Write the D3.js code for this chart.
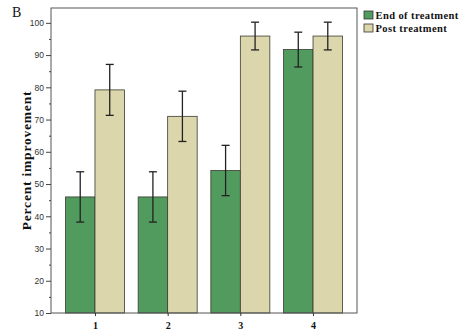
<!DOCTYPE html>
<html>
<head>
<meta charset="utf-8">
<script src="https://cdn.jsdelivr.net/npm/d3@7"></script>
<style>
  html, body { margin: 0; padding: 0; background: #fff; }
  svg { display: block; }
  .tick-label { font-family: "Liberation Sans", Arial, sans-serif; font-size: 8.5px; fill: #333; }
  .serif-bold { font-family: "Liberation Serif", "Times New Roman", serif; font-weight: bold; }
</style>
</head>
<body>
<div id="chart"></div>
<script>
// Groups along the x axis
const groups = ["1", "2", "3", "4"];
const seriesNames = ["End of treatment", "Post treatment"];

// Mean percent improvement per group
const endOfTreatment = [46, 46, 54.2, 91.7];
const postTreatment = [79.2, 71, 95.9, 95.9];

// Half-width of the error bars
const endErr = [7.8, 7.8, 7.8, 5.4];
const postErr = [7.9, 7.8, 4.3, 4.3];

const yTicks = [10, 20, 30, 40, 50, 60, 70, 80, 90, 100];
const yMinorTicks = [15, 25, 35, 45, 55, 65, 75, 85, 95];

const colors = ["#529b5e", "#dbd6ab"];

const width = 464, height = 334;
const margin = { top: 8, right: 107, bottom: 21, left: 51 };
const innerW = width - margin.left - margin.right;
const innerH = height - margin.top - margin.bottom;

const svg = d3.select("#chart").append("svg")
  .attr("width", width)
  .attr("height", height);

const plot = svg.append("g").attr("transform", `translate(${margin.left},${margin.top})`);

// scales
const x = d3.scalePoint().domain(groups).range([0, innerW]).padding(0.605);
const y = d3.scaleLinear().domain([10, 104.6]).range([innerH, 0]);
const barW = 29.5;

// bars
const rows = groups.map((g, i) => ({
  g,
  vals: [
    { s: 0, v: endOfTreatment[i], e: endErr[i] },
    { s: 1, v: postTreatment[i], e: postErr[i] }
  ]
}));

const grp = plot.selectAll("g.grp").data(rows).join("g")
  .attr("class", "grp")
  .attr("transform", d => `translate(${x(d.g)},0)`);

grp.selectAll("rect").data(d => d.vals).join("rect")
  .attr("x", d => d.s === 0 ? -barW : 0)
  .attr("width", barW)
  .attr("y", d => y(d.v))
  .attr("height", d => innerH - y(d.v))
  .attr("fill", d => colors[d.s])
  .attr("stroke", "#3a3a32")
  .attr("stroke-width", 0.8);

// error bars
const eb = grp.selectAll("g.err").data(d => d.vals).join("g")
  .attr("class", "err")
  .attr("transform", d => `translate(${d.s === 0 ? -barW / 2 : barW / 2},0)`);
eb.append("line")
  .attr("y1", d => y(d.v - d.e)).attr("y2", d => y(d.v + d.e))
  .attr("stroke", "#222").attr("stroke-width", 1.3);
eb.selectAll("line.cap").data(d => [d.v - d.e, d.v + d.e]).join("line")
  .attr("class", "cap")
  .attr("x1", -4).attr("x2", 4)
  .attr("y1", d => y(d)).attr("y2", d => y(d))
  .attr("stroke", "#222").attr("stroke-width", 1.3);

// frame
plot.append("rect")
  .attr("width", innerW).attr("height", innerH)
  .attr("fill", "none").attr("stroke", "#555").attr("stroke-width", 1);

// y axis
const yAxis = plot.append("g").call(
  d3.axisLeft(y).tickValues(yTicks).tickSize(5).tickPadding(2)
);
yAxis.select(".domain").remove();
yAxis.selectAll("line").attr("stroke", "#444");
yAxis.selectAll("text").attr("class", "tick-label").attr("font-size", null).attr("font-family", null);

const yMinor = plot.append("g").call(
  d3.axisLeft(y).tickValues(yMinorTicks).tickSize(2).tickFormat("")
);
yMinor.select(".domain").remove();
yMinor.selectAll("line").attr("stroke", "#444");

// x axis
const xAxis = plot.append("g").attr("transform", `translate(0,${innerH})`).call(
  d3.axisBottom(x).tickSize(3).tickPadding(6)
);
xAxis.select(".domain").remove();
xAxis.selectAll("line").attr("stroke", "#333");
xAxis.selectAll("text")
  .attr("class", "serif-bold")
  .attr("font-size", "10px")
  .attr("font-family", null)
  .attr("fill", "#111");

// y axis title
svg.append("text")
  .attr("class", "serif-bold")
  .attr("transform", `translate(31,${margin.top + innerH / 2}) rotate(-90)`)
  .attr("text-anchor", "middle")
  .attr("font-size", "13.5px")
  .attr("letter-spacing", "0.8px")
  .attr("fill", "#111")
  .text("Percent improvement");

// panel letter
svg.append("text")
  .attr("x", 12).attr("y", 17)
  .attr("font-family", "Liberation Serif, Times New Roman, serif")
  .attr("font-size", "14px")
  .attr("fill", "#111")
  .text("B");

// legend
const legend = svg.append("g").attr("transform", "translate(364,11)");
const li = legend.selectAll("g").data(seriesNames).join("g")
  .attr("transform", (d, i) => `translate(0,${i * 13})`);
li.append("rect")
  .attr("width", 9).attr("height", 8)
  .attr("fill", (d, i) => colors[i])
  .attr("stroke", "#333").attr("stroke-width", 0.8);
li.append("text")
  .attr("class", "serif-bold")
  .attr("x", 11.5).attr("y", 7.5)
  .attr("font-size", "10.5px")
  .attr("letter-spacing", "0.4px")
  .attr("fill", "#111")
  .text(d => d);
</script>
</body>
</html>
